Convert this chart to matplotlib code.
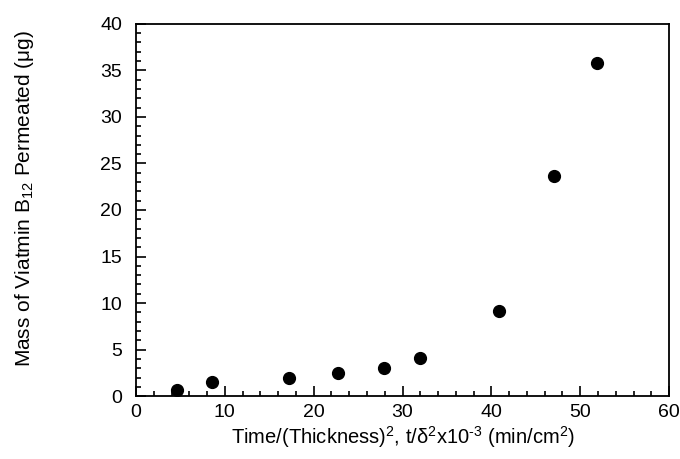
import matplotlib
matplotlib.use('Agg')
import matplotlib.pyplot as plt
from matplotlib.ticker import MultipleLocator

plt.rcParams['font.family'] = ['Liberation Sans', 'DejaVu Sans']
plt.rcParams['mathtext.fontset'] = 'custom'
plt.rcParams['mathtext.rm'] = 'Liberation Sans'
plt.rcParams['mathtext.it'] = 'Liberation Sans'
plt.rcParams['mathtext.default'] = 'regular'

# data
t_delta2 = [4.6, 8.6, 17.2, 22.7, 27.9, 32.0, 40.9, 47.0, 51.9]
mass_b12 = [0.7, 1.5, 1.9, 2.5, 3.0, 4.1, 9.1, 23.6, 35.8]

fig = plt.figure(figsize=(6.8, 4.59), dpi=100)
ax = fig.add_axes([0.2, 0.137, 0.784, 0.811])

ax.plot(t_delta2, mass_b12, 'o', color='black', markersize=8.5)

ax.set_xlim(0, 60)
ax.set_ylim(0, 40)
ax.xaxis.set_major_locator(MultipleLocator(10))
ax.xaxis.set_minor_locator(MultipleLocator(2))
ax.yaxis.set_major_locator(MultipleLocator(5))
ax.yaxis.set_minor_locator(MultipleLocator(1))
ax.tick_params(which='both', direction='in', labelsize=14, width=1.2)
ax.tick_params(which='major', length=7)
ax.tick_params(which='minor', length=3.5)
ax.tick_params(axis='x', pad=6)
ax.tick_params(axis='y', pad=10)
for s in ax.spines.values():
    s.set_linewidth(1.3)

ax.set_xlabel('Time/(Thickness)$^2$, t/δ$^2$x10$^{‐3}$ (min/cm$^2$)', fontsize=14.5, labelpad=2)
ax.set_ylabel('Mass of Viatmin B$_{12}$ Permeated (μg)', fontsize=15)
ax.yaxis.set_label_coords(-0.188, 0.532)

fig.savefig('out.png', dpi=100)
